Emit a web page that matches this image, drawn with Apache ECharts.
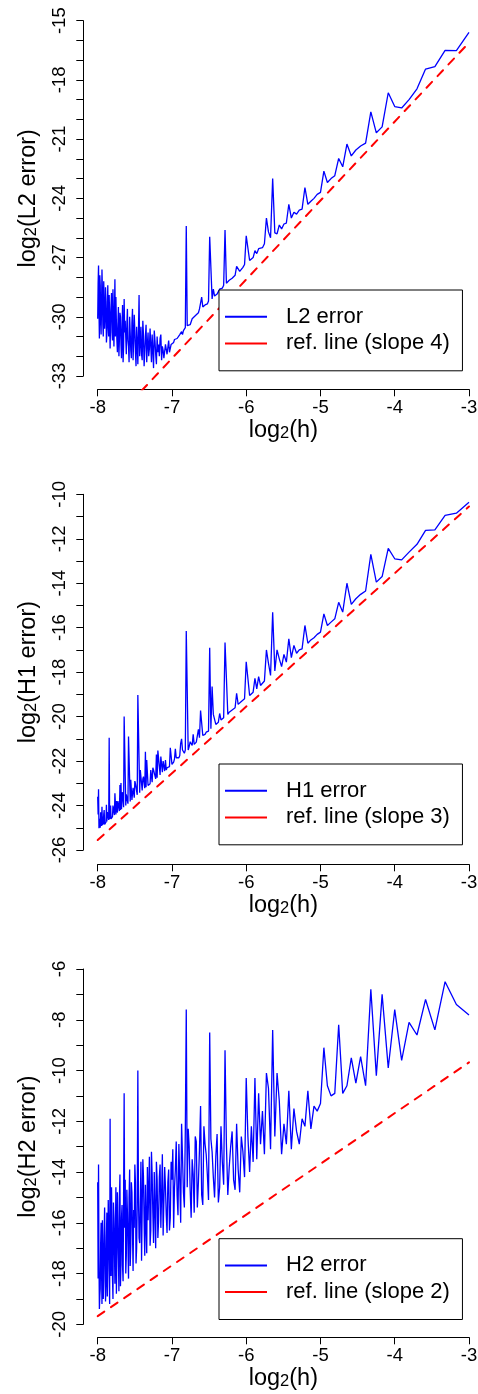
<!DOCTYPE html>
<html>
<head>
<meta charset="utf-8">
<script src="https://cdn.jsdelivr.net/npm/echarts@6/dist/echarts.min.js"></script>
<style>
  html, body { margin: 0; padding: 0; background: #fff; }
  #chart { width: 478px; height: 1394px; }
</style>
</head>
<body>
<div id="chart"></div>
<script>
// mesh sizes n (h = 1/n), x axis shows log2(h)
var meshN = [
  8,9,10,11,12,13,14,15,16,17,18,19,20,21,22,23,24,25,26,27,28,29,30,31,32,
  33,34,35,36,37,38,39,40,41,42,43,44,45,46,47,48,49,50,51,52,53,54,55,56,57,58,59,60,61,62,63,64,
  65,66,67,68,69,70,71,72,73,74,75,76,77,78,79,80,81,82,83,84,85,86,87,88,89,90,91,92,93,94,95,96,
  97,98,99,100,101,102,103,104,105,106,107,108,109,110,111,112,113,114,115,116,117,118,119,120,121,122,123,124,125,126,127,128,
  129,130,131,132,133,134,135,136,137,138,139,140,141,142,143,144,145,146,147,148,149,150,151,152,153,154,155,156,157,158,159,160,
  161,162,163,164,165,166,167,168,169,170,171,172,173,174,175,176,177,178,179,180,181,182,183,184,185,186,187,188,189,190,191,192,
  193,194,195,196,197,198,199,200,201,202,203,204,205,206,207,208,209,210,211,212,213,214,215,216,217,218,219,220,221,222,223,224,
  225,226,227,228,229,230,231,232,233,234,235,236,237,238,239,240,241,242,243,244,245,246,247,248,249,250,251,252,253,254,255,256
];

// log2 of the errors, same order as meshN
var l2Err = [
  -15.59,-16.52,-16.5,-17.33,-17.45,-18.45,-19.0,-19.42,-19.35,-18.65,-20.38,-20.68,-19.62,-21.2,-21.35,-21.55,-21.85,-21.25,-22.4,-21.98,-22.85,-23.0,-23.2,-22.62,-23.7,
  -23.8,-24.0,-24.15,-24.3,-23.45,-24.55,-24.6,-24.8,-24.7,-25.0,-24.3,-25.25,-25.3,-25.55,-25.35,-25.8,-25.75,-23.0,-26.0,-25.7,-25.0,-26.3,-26.5,-26.6,-26.55,-26.8,-26.65,-27.0,-27.1,-27.15,-27.2,-25.9,
  -27.35,-27.5,-27.6,-27.7,-27.8,-27.45,-27.9,-28.0,-28.05,-28.1,-28.15,-28.2,-28.3,-25.6,-28.4,-28.55,-28.5,-28.6,-28.7,-28.85,-28.8,-28.95,-28.6,-29.1,-29.05,-25.95,-29.2,-29.35,-29.3,-29.4,-29.45,-29.5,
  -29.0,-28.9,-29.6,-29.8,-29.75,-29.9,-29.9,-30.0,-30.05,-30.1,-30.2,-30.4,-30.3,-30.5,-30.45,-25.4,-30.55,-30.6,-30.7,-30.9,-30.75,-30.8,-30.9,-31.0,-30.95,-31.1,-31.2,-31.0,-31.15,-31.3,-31.25,-31.3,
  -31.4,-31.6,-31.8,-31.2,-31.1,-31.9,-32.0,-31.4,-31.3,-32.1,-31.7,-31.5,-32.2,-30.9,-31.1,-32.0,-31.4,-31.8,-31.0,-32.4,-31.9,-31.2,-30.7,-32.6,-31.7,-30.9,-32.3,-32.2,-30.6,-31.6,-32.0,-30.8,
  -31.4,-32.3,-30.4,-31.0,-31.8,-32.5,-30.9,-30.2,-32.2,-31.9,-30.5,-31.3,-32.0,-28.9,-30.8,-32.4,-31.3,-30.5,-32.5,-31.8,-30.7,-29.9,-31.2,-32.2,-29.6,-30.3,-32.1,-31.7,-30.8,-30.0,-32.3,-31.5,
  -31.2,-29.6,-30.4,-31.9,-32.0,-30.2,-30.8,-29.1,-31.5,-32.3,-29.4,-30.6,-32.1,-31.4,-30.0,-29.8,-31.1,-32.0,-29.5,-30.4,-31.8,-31.2,-30.3,-29.0,-31.0,-28.1,-29.9,-31.5,-30.3,-28.6,-31.2,-30.8,
  -28.8,-29.4,-30.2,-31.6,-30.0,-28.9,-31.0,-30.5,-28.4,-29.7,-30.9,-31.3,-29.2,-28.5,-30.0,-30.6,-29.3,-28.2,-31.0,-30.4,-28.7,-27.6,-29.5,-30.9,-30.2,-28.4,-27.9,-31.1,-29.6,-27.4,-28.3,-30.1
];
var h1Err = [
  -10.36,-10.85,-10.95,-11.6,-11.62,-12.25,-12.6,-12.95,-12.9,-12.43,-13.7,-13.95,-12.7,-14.35,-14.5,-14.7,-14.95,-14.0,-15.3,-14.86,-15.6,-15.75,-15.9,-15.38,-16.2,
  -16.3,-16.45,-16.55,-16.7,-15.9,-16.95,-17.0,-17.15,-16.8,-17.35,-16.5,-17.55,-17.2,-17.75,-17.4,-17.0,-17.95,-15.31,-18.15,-17.6,-17.0,-18.4,-18.45,-18.6,-18.2,-18.75,-18.28,-18.9,-18.95,-19.05,-19.1,-17.53,
  -19.2,-19.25,-19.32,-19.4,-19.45,-18.95,-19.6,-19.65,-19.7,-19.75,-19.8,-19.9,-19.95,-16.67,-20.05,-20.1,-20.15,-19.86,-20.25,-20.3,-20.35,-20.4,-19.9,-18.65,-20.55,-16.9,-20.65,-20.7,-20.7,-20.8,-20.8,-20.85,
  -20.9,-19.73,-20.95,-20.57,-20.6,-21.15,-21.1,-21.25,-20.8,-21.3,-21.3,-21.13,-21.35,-21.5,-21.45,-16.15,-21.5,-21.65,-21.6,-21.5,-21.0,-21.2,-21.75,-21.85,-21.8,-21.9,-21.85,-21.45,-21.9,-22.05,-22.0,-22.15,
  -22.2,-21.4,-22.25,-22.25,-22.32,-22.3,-22.4,-21.95,-22.45,-22.45,-22.0,-22.5,-22.58,-21.8,-22.62,-22.65,-22.68,-21.53,-22.75,-21.7,-22.8,-22.85,-22.85,-22.4,-22.3,-22.95,-22.97,-22.4,-23.02,-23.05,-23.08,-23.1,
  -23.12,-21.95,-23.18,-21.58,-23.22,-23.25,-22.7,-22.8,-23.32,-23.35,-23.38,-22.4,-23.42,-23.45,-23.48,-19.03,-23.52,-23.55,-23.57,-23.0,-22.9,-23.65,-23.67,-23.2,-23.2,-23.75,-23.77,-22.84,-23.82,-23.85,-23.87,-20.9,
  -23.92,-23.95,-23.97,-23.5,-24.0,-24.0,-24.05,-20.0,-24.08,-24.1,-23.4,-23.6,-24.17,-22.99,-24.2,-23.08,-24.25,-24.25,-24.28,-23.8,-24.32,-24.35,-23.8,-24.4,-24.4,-23.45,-24.43,-24.45,-24.47,-24.0,-24.5,-24.55,
  -24.55,-24.6,-24.0,-24.2,-24.62,-20.95,-24.65,-24.7,-24.68,-24.3,-24.72,-23.97,-24.75,-24.8,-24.78,-24.85,-24.2,-24.4,-24.85,-24.5,-24.88,-24.05,-24.92,-24.95,-24.3,-25.0,-24.98,-24.6,-25.02,-23.27,-24.4,-23.6
];
var h2Err = [
  -7.81,-7.4,-6.5,-8.4,-7.2,-8.6,-8.1,-9.6,-7.6,-9.9,-7.0,-10.2,-6.8,-10.6,-9.45,-10.5,-9.5,-10.6,-10.9,-8.2,-10.9,-11.0,-10.6,-9.1,-11.3,
  -11.6,-11.4,-12.3,-10.8,-12.2,-11.9,-12.9,-12.4,-11.5,-13.1,-10.8,-12.9,-12.1,-13.3,-11.2,-10.1,-12.6,-8.4,-13.1,-10.7,-10.1,-13.3,-11.6,-12.9,-10.9,-13.5,-10.3,-13.6,-12.2,-14.0,-12.6,-10.3,
  -14.2,-13.2,-12.6,-14.8,-13.9,-12.1,-14.7,-14.3,-12.4,-13.0,-13.8,-14.9,-12.9,-9.2,-14.5,-13.6,-12.2,-14.6,-15.2,-12.5,-13.4,-15.0,-14.2,-13.2,-12.7,-8.5,-15.1,-14.1,-13.3,-12.9,-12.2,-15.3,
  -14.9,-11.4,-13.1,-14.4,-15.4,-12.8,-12.6,-15.6,-14.1,-13.5,-15.8,-14.7,-13.0,-12.3,-14.6,-7.6,-12.4,-15.4,-14.8,-13.4,-12.1,-16.0,-14.3,-12.9,-15.7,-14.9,-12.8,-13.9,-14.6,-16.2,-13.1,-14.3,
  -13.6,-15.8,-16.3,-13.9,-14.4,-16.4,-15.7,-14.6,-13.8,-15.1,-16.5,-13.3,-14.9,-16.2,-13.7,-14.2,-15.9,-16.6,-14.3,-13.6,-17.0,-15.5,-14.0,-16.8,-15.6,-14.1,-13.2,-16.3,-16.9,-13.4,-14.7,-15.9,
  -13.8,-17.2,-16.1,-14.5,-17.3,-16.0,-14.2,-13.5,-15.4,-17.5,-13.6,-15.2,-16.8,-16.6,-14.9,-10.0,-15.3,-17.0,-17.6,-14.4,-13.7,-16.2,-15.5,-17.9,-16.4,-14.8,-14.4,-16.9,-17.7,-13.9,-15.0,-18.2,
  -16.9,-15.6,-14.7,-17.3,-18.0,-14.3,-16.2,-10.9,-14.9,-18.3,-17.7,-15.3,-15.8,-17.6,-18.5,-14.1,-15.0,-18.7,-17.4,-16.1,-14.8,-17.2,-18.8,-14.6,-16.3,-18.4,-17.0,-15.8,-15.2,-19.0,-18.2,-16.4,
  -14.6,-18.1,-17.6,-11.9,-19.2,-17.9,-16.0,-15.1,-17.3,-18.9,-15.6,-16.6,-18.5,-19.1,-17.2,-15.4,-16.5,-18.2,-19.0,-17.0,-15.9,-19.2,-17.8,-16.0,-16.8,-18.6,-18.9,-19.4,-17.4,-13.7,-18.2,-14.4
];

// reference lines: end points at log2(h) = -8 and -3
var refX = [-8, -3];
var refL2 = [-36.11, -16.11];
var refH1 = [-25.55, -10.55];
var refH2 = [-19.68, -9.68];

var errNames = ['L2 error', 'H1 error', 'H2 error'];
var refNames = ['ref. line (slope 4)', 'ref. line (slope 3)', 'ref. line (slope 2)'];
var xTicks = [-8, -3];
var yTicks = [[-33, -15], [-26, -10], [-20, -6]];
var yLabelStep = [3, 2, 2];

// layout of the three panels (pixels)
var tickTop = [20.7, 494.3, 969];
var tickBottom = [376, 850, 1324.3];
var axisLineY = [389.3, 864.3, 1337.3];
var legendTop = [290, 764, 1238.7];
var yAxisX = 83.3, xStartX = 97.7, xEndX = 469;

var FONT = "'Liberation Sans', Arial, Helvetica, sans-serif";
var richName = {
  m: { fontSize: 23.5, lineHeight: 24, fontFamily: FONT, color: '#000' },
  s: { fontSize: 16.5, lineHeight: 6, verticalAlign: 'bottom', fontFamily: FONT, color: '#000' }
};

var errData = [l2Err, h1Err, h2Err];
var refData = [refL2, refH1, refH2];

var grids = [], xAxes = [], yAxes = [], series = [], legends = [];
var rightPad = 478 - xEndX;

for (let p = 0; p < 3; p++) {
  let top = tickTop[p], bot = tickBottom[p], ax = axisLineY[p];
  let yMin = yTicks[p][0], yMax = yTicks[p][1];
  let pxPerUnit = (bot - top) / (yMax - yMin);
  let xPerUnit = (xEndX - xStartX) / (xTicks[1] - xTicks[0]);

  // plot region (data is clipped here)
  grids.push({ left: yAxisX, right: rightPad, top: top, height: ax - top, containLabel: false, outerBoundsMode: 'none' });
  // tick range box, carries the visible axes
  grids.push({ left: xStartX, right: rightPad, top: top, height: bot - top, containLabel: false, outerBoundsMode: 'none' });

  xAxes.push({
    type: 'value', gridIndex: 2 * p, show: false,
    min: xTicks[0] - (xStartX - yAxisX) / xPerUnit, max: xTicks[1]
  });
  yAxes.push({
    type: 'value', gridIndex: 2 * p, show: false,
    min: yMin - (ax - bot) / pxPerUnit, max: yMax
  });

  xAxes.push({
    type: 'value', gridIndex: 2 * p + 1, position: 'bottom',
    min: xTicks[0], max: xTicks[1], interval: 1, offset: ax - bot,
    axisLine: { show: true, onZero: false, lineStyle: { color: '#000', width: 1 } },
    axisTick: { show: true, length: 7, lineStyle: { color: '#000', width: 1 } },
    axisLabel: { show: true, margin: 9, fontSize: 18.5, color: '#000', fontFamily: FONT },
    splitLine: { show: false },
    name: '{m|log}{s|2}{m|(h)}', nameLocation: 'middle', nameGap: 25,
    nameTextStyle: { rich: richName }
  });
  yAxes.push({
    type: 'value', gridIndex: 2 * p + 1, position: 'left',
    min: yMin, max: yMax, interval: 1, offset: xStartX - yAxisX,
    axisLine: { show: true, onZero: false, lineStyle: { color: '#000', width: 1 } },
    axisTick: { show: true, length: 7, lineStyle: { color: '#000', width: 1 } },
    axisLabel: {
      show: true, rotate: 90, margin: 13.5, fontSize: 18.5, color: '#000', fontFamily: FONT,
      formatter: function (v) { return ((v - yMin) % yLabelStep[p] === 0) ? String(v) : ''; }
    },
    splitLine: { show: false },
    name: '{m|log}{s|2}{m|(' + errNames[p] + ')}', nameLocation: 'middle', nameGap: 43, nameRotate: 90,
    nameTextStyle: { rich: richName }
  });

  let errs = errData[p];
  series.push({
    type: 'line', name: errNames[p], xAxisIndex: 2 * p, yAxisIndex: 2 * p,
    data: meshN.map(function (n, i) { return [-Math.log2(n), errs[i]]; }),
    symbol: 'none', showSymbol: false, clip: true, silent: true,
    lineStyle: { color: '#0000ff', width: 1.3 },
    itemStyle: { color: '#0000ff' }
  });
  series.push({
    type: 'line', name: refNames[p], xAxisIndex: 2 * p, yAxisIndex: 2 * p,
    data: refX.map(function (x, i) { return [x, refData[p][i]]; }),
    symbol: 'none', showSymbol: false, clip: true, silent: true,
    lineStyle: { color: '#ff0000', width: 2, type: [8, 8], cap: 'round' },
    itemStyle: { color: '#ff0000' }
  });

  legends.push({
    orient: 'vertical', left: 219, top: legendTop[p],
    data: [errNames[p], refNames[p]],
    icon: 'rect', itemWidth: 42, itemHeight: 2, itemGap: 4.7,
    padding: [15.7, 12.6, 16.4, 6],
    borderColor: '#000', borderWidth: 1, borderRadius: 0, backgroundColor: '#fff',
    selectedMode: false,
    textStyle: { fontSize: 22, lineHeight: 22, color: '#000', fontFamily: FONT, padding: [0, 0, 0, 14] }
  });
}

var chart = echarts.init(document.getElementById('chart'));
chart.setOption({
  animation: false,
  backgroundColor: '#fff',
  grid: grids,
  xAxis: xAxes,
  yAxis: yAxes,
  legend: legends,
  series: series
});
</script>
</body>
</html>
